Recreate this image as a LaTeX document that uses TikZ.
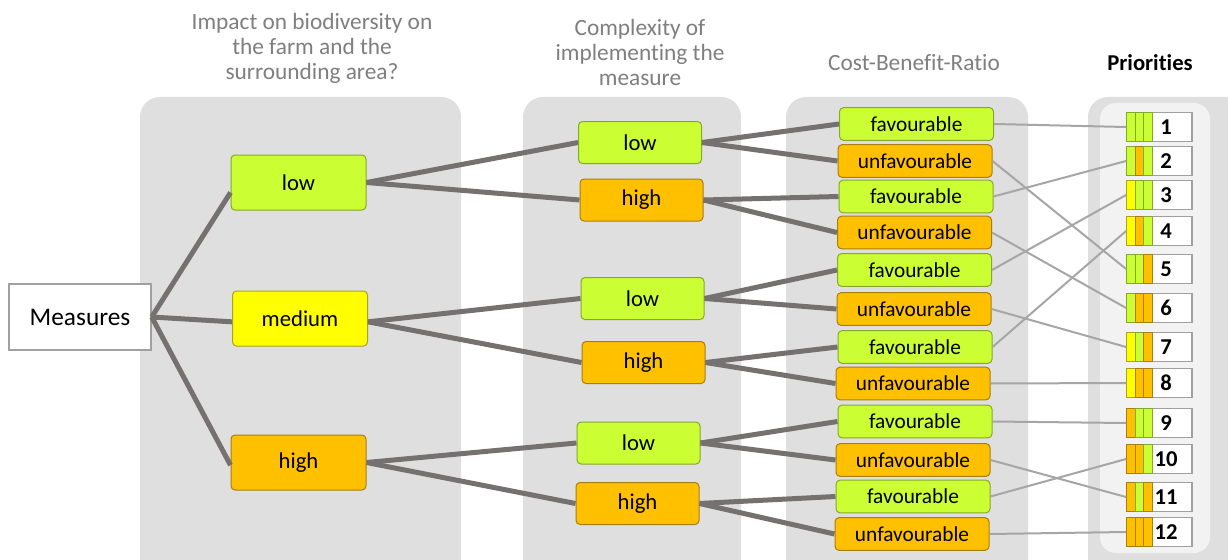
\documentclass[tikz,border=0pt]{standalone}
\usepackage{fontspec}
\setmainfont[Ligatures=NoCommon]{Carlito}
\usetikzlibrary{calc}
\definecolor{cgreen}{HTML}{CCFF33}
\definecolor{cgreenD}{HTML}{86A82A}
\definecolor{cyellow}{HTML}{FFFF00}
\definecolor{cyellowD}{HTML}{A8A420}
\definecolor{corange}{HTML}{FFC000}
\definecolor{corangeD}{HTML}{A87E10}
\definecolor{panelgray}{HTML}{DFDFDF}
\definecolor{panellight}{HTML}{F2F2F2}
\definecolor{headgray}{HTML}{7F7F7F}
\definecolor{thickgray}{HTML}{767171}
\definecolor{thingray}{HTML}{A6A6A6}
\definecolor{boxgray}{HTML}{A0A0A0}
\newcommand\prow[5]{%
  \node[numbox] (p#1) at (1172,#2) {#1\hspace*{9pt}};
  \node[bar,fill=c#3,draw=c#3D] (p#1a) at (1131,#2) {};
  \node[bar,fill=c#4,draw=c#4D] (p#1b) at (1139.5,#2) {};
  \node[bar,fill=c#5,draw=c#5D] (p#1c) at (1148,#2) {};
}
\begin{document}
\begin{tikzpicture}[x=0.75pt,y=-0.75pt,
  header/.style={text=headgray,align=center,font=\fontsize{17.5}{18.75}\selectfont},
  cbox/.style={rounded corners=3pt,draw,line width=0.75pt,inner sep=0pt},
  gbox/.style={cbox,fill=cgreen,draw=cgreenD},
  ybox/.style={cbox,fill=cyellow,draw=cyellowD},
  obox/.style={cbox,fill=corange,draw=corangeD},
  lvA/.style={minimum width=101.25pt,minimum height=41.25pt,font=\fontsize{17}{20}\selectfont},
  lvB/.style={minimum width=92.25pt,minimum height=31.5pt,font=\fontsize{17}{20}\selectfont},
  lvC/.style={minimum width=115.5pt,minimum height=24.5pt,font=\fontsize{16}{19}\selectfont},
  numbox/.style={draw=boxgray,fill=white,line width=0.9pt,minimum width=30pt,minimum height=21.75pt,inner sep=0pt,font=\bfseries\fontsize{17}{20}\selectfont},
  bar/.style={line width=0.6pt,minimum width=6.75pt,minimum height=21.75pt,inner sep=0pt},
  thickline/.style={draw=thickgray,line width=3.75pt},
  thinline/.style={draw=thingray,line width=1.5pt}
]
\useasboundingbox (0,0) rectangle (1228,560);
\fill[white] (0,0) rectangle (1228,560);
% panels
\begin{scope}
  \clip (0,0) rectangle (1228,560);
  \fill[panelgray,rounded corners=15pt] (140,97) rectangle (461,600);
  \fill[panelgray,rounded corners=15pt] (523,97) rectangle (741,600);
  \fill[panelgray,rounded corners=15pt] (786,97) rectangle (1028,600);
  \fill[panelgray,rounded corners=15pt] (1088,97) rectangle (1260,600);
  \fill[panellight,rounded corners=12pt] (1100,103) rectangle (1210,553);
\end{scope}
% headers
\node[header] (h1) at (312,48) {Impact on biodiversity on\\the farm and the\\surrounding area?};
\node[header] (h2) at (640,52) {Complexity of\\implementing the\\measure};
\node[header] (h3) at (914,63) {Cost-Benefit-Ratio};
\node[font=\bfseries\fontsize{17}{20}\selectfont] (h4) at (1150,63) {Priorities};
% root
\node[draw=boxgray,fill=white,line width=1.1pt,minimum width=106.5pt,minimum height=49.5pt,inner sep=0pt,font=\fontsize{19}{22}\selectfont] (m) at (80,317) {Measures};
% level 1
\node[gbox,lvA] (a1) at (298.5,182.5) {low};
\node[ybox,lvA] (a2) at (300,318.5) {medium};
\node[obox,lvA] (a3) at (298.5,462.5) {high};
% level 2
\node[gbox,lvB] (b1) at (640,142.5) {low};
\node[obox,lvB] (b2) at (641.5,200) {high};
\node[gbox,lvB] (b3) at (642.5,298.5) {low};
\node[obox,lvB] (b4) at (643.5,362.5) {high};
\node[gbox,lvB] (b5) at (638.5,443) {low};
\node[obox,lvB] (b6) at (637.5,503.5) {high};
% level 3
\node[gbox,lvC] (c1) at (916.5,124) {favourable};
\node[obox,lvC] (c2) at (915,161) {unfavourable};
\node[gbox,lvC] (c3) at (916,196.5) {favourable};
\node[obox,lvC] (c4) at (914.5,232.5) {unfavourable};
\node[gbox,lvC] (c5) at (914.5,270) {favourable};
\node[obox,lvC] (c6) at (914,309) {unfavourable};
\node[gbox,lvC] (c7) at (915,347) {favourable};
\node[obox,lvC] (c8) at (913,383.5) {unfavourable};
\node[gbox,lvC] (c9) at (915,421.5) {favourable};
\node[obox,lvC] (c10) at (913,460) {unfavourable};
\node[gbox,lvC] (c11) at (913,496.5) {favourable};
\node[obox,lvC] (c12) at (912,534) {unfavourable};
% priorities
\prow{1}{127}{green}{green}{green}
\prow{2}{161}{green}{orange}{green}
\prow{3}{195}{yellow}{green}{green}
\prow{4}{231}{yellow}{orange}{green}
\prow{5}{269}{green}{green}{orange}
\prow{6}{308}{green}{orange}{orange}
\prow{7}{347}{yellow}{green}{orange}
\prow{8}{383}{yellow}{orange}{orange}
\prow{9}{423}{orange}{green}{green}
\prow{10}{459}{orange}{orange}{green}
\prow{11}{497}{orange}{green}{orange}
\prow{12}{532}{orange}{orange}{orange}
% thick connectors
\draw[thickline] (m.east) -- ([yshift=-7.5pt]a1.west);
\draw[thickline] (m.east) -- ([yshift=-2.5pt]a2.west);
\draw[thickline] (m.east) -- ([yshift=-2pt]a3.west);
\draw[thickline] (a1.east) -- (b1.west);
\draw[thickline] (a1.east) -- (b2.west);
\draw[thickline] ([yshift=-2.5pt]a2.east) -- (b3.west);
\draw[thickline] ([yshift=-2.5pt]a2.east) -- (b4.west);
\draw[thickline] (a3.east) -- (b5.west);
\draw[thickline] (a3.east) -- (b6.west);
\draw[thickline] (b1.east) -- (c1.west);
\draw[thickline] (b1.east) -- (c2.west);
\draw[thickline] (b2.east) -- (c3.west);
\draw[thickline] (b2.east) -- (c4.west);
\draw[thickline] (b3.east) -- (c5.west);
\draw[thickline] (b3.east) -- (c6.west);
\draw[thickline] (b4.east) -- (c7.west);
\draw[thickline] (b4.east) -- (c8.west);
\draw[thickline] (b5.east) -- (c9.west);
\draw[thickline] (b5.east) -- (c10.west);
\draw[thickline] (b6.east) -- (c11.west);
\draw[thickline] (b6.east) -- (c12.west);
% thin connectors
\draw[thinline] (c1.east) -- (p1a.west);
\draw[thinline] (c2.east) -- (p5a.west);
\draw[thinline] (c3.east) -- (p2a.west);
\draw[thinline] (c4.east) -- (p6a.west);
\draw[thinline] (c5.east) -- (p3a.west);
\draw[thinline] (c6.east) -- (p7a.west);
\draw[thinline] (c7.east) -- (p4a.west);
\draw[thinline] (c8.east) -- (p8a.west);
\draw[thinline] (c9.east) -- (p9a.west);
\draw[thinline] (c10.east) -- (p11a.west);
\draw[thinline] (c11.east) -- (p10a.west);
\draw[thinline] (c12.east) -- (p12a.west);
\end{tikzpicture}
\end{document}
